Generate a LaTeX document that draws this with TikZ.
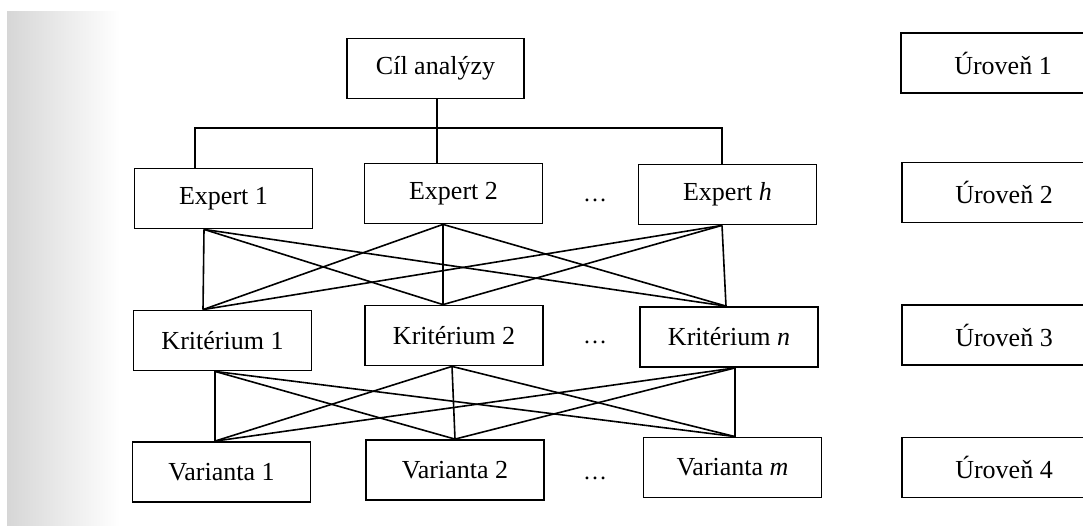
\documentclass[tikz,border=0pt]{standalone}
\usepackage{fontspec}
\setmainfont{Liberation Serif}
\usetikzlibrary{calc}
\begin{document}
\begin{tikzpicture}[x=1pt,y=-1pt,
  box/.style={draw, line width=1.8pt, minimum width=178pt, minimum height=60pt, inner sep=0pt,
    font=\fontsize{26}{30}\selectfont},
  lvlbox/.style={box, minimum width=204pt},
  dotsnode/.style={font=\fontsize{24}{30}\selectfont, inner sep=0pt},
  conn/.style={line width=1.6pt}]
\useasboundingbox (0,0) rectangle (1083,526);
\fill[white] (0,0) rectangle (1083,526);
\shade[left color=black!16, right color=white] (7,12) rectangle (120,526);
% level 1
\node[box, minimum width=177pt] (c) at (435.5,68.5) {Cíl analýzy};
% level 2
\node[box] (e1) at (223.5,198.5) {Expert 1};
\node[box] (e2) at (453.5,193.5) {Expert 2};
\node[box] (eh) at (727.5,194.5) {Expert \textit{h}};
\node[dotsnode] (d2) at (595,200) {…};
% level 3
\node[box] (k1) at (222.5,340.5) {Kritérium 1};
\node[box] (k2) at (454,335.5) {Kritérium 2};
\node[box] (kn) at (729,337) {Kritérium \textit{n}};
\node[dotsnode] (d3) at (595,342) {…};
% level 4
\node[box] (v1) at (221.5,472) {Varianta 1};
\node[box] (v2) at (455,470) {Varianta 2};
\node[box] (vm) at (732.5,467.5) {Varianta \textit{m}};
\node[dotsnode] (d4) at (595,478) {…};
% level labels
\node[lvlbox] (u1) at (1003,63) {Úroveň 1};
\node[lvlbox] (u2) at (1004,192.5) {Úroveň 2};
\node[lvlbox] (u3) at (1004,335) {Úroveň 3};
\node[lvlbox] (u4) at (1004,467.5) {Úroveň 4};
% anchor points
\coordinate (cb) at ($(c.south)+(1.5,0)$);
\coordinate (e1t) at ($(e1.north)+(-28.5,0)$);
\coordinate (e2t) at ($(e2.north)+(-16.5,0)$);
\coordinate (eht) at ($(eh.north)+(-5.5,0)$);
\coordinate (j) at (437,128);
\coordinate (e1b) at ($(e1.south)+(-19.5,0)$);
\coordinate (e2b) at ($(e2.south)+(-10.5,0)$);
\coordinate (ehb) at ($(eh.south)+(-5.5,0)$);
\coordinate (k1t) at ($(k1.north)+(-19.5,0)$);
\coordinate (k2t) at ($(k2.north)+(-11,0)$);
\coordinate (knt) at ($(kn.north)+(-3,0)$);
\coordinate (k1b) at ($(k1.south)+(-7.5,0)$);
\coordinate (k2b) at ($(k2.south)+(-2,0)$);
\coordinate (knb) at ($(kn.south)+(6,0)$);
\coordinate (v1t) at ($(v1.north)+(-6.5,0)$);
\coordinate (v2t) at ($(v2.north)+(0,0)$);
\coordinate (vmt) at ($(vm.north)+(2.5,0)$);
% tree from goal to experts
\draw[conn] (cb) -- (e2t);
\draw[conn] (e1t) |- (j) -| (eht);
% experts to criteria
\foreach \a in {e1b,e2b,ehb}{
  \foreach \b in {k1t,k2t,knt}{
    \draw[conn] (\a) -- (\b);
  }
}
% criteria to variants
\foreach \a in {k1b,k2b,knb}{
  \foreach \b in {v1t,v2t,vmt}{
    \draw[conn] (\a) -- (\b);
  }
}
\end{tikzpicture}
\end{document}
